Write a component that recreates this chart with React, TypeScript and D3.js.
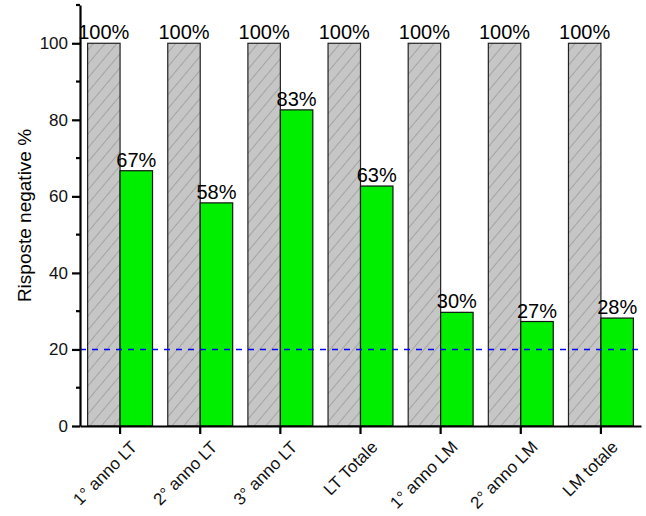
import React, { useEffect, useRef } from 'react';
import * as d3 from 'd3';

const categories = ['1° anno LT', '2° anno LT', '3° anno LT', 'LT Totale', '1° anno LM', '2° anno LM', 'LM totale'];
const totalValues = [100, 100, 100, 100, 100, 100, 100];
const negativeValues = [66.7, 58.3, 82.6, 62.7, 29.7, 27.3, 28.2];
const totalLabels = ['100%', '100%', '100%', '100%', '100%', '100%', '100%'];
const negativeLabels = ['67%', '58%', '83%', '63%', '30%', '27%', '28%'];
const yTicks = [0, 20, 40, 60, 80, 100];
const yMinorTicks = [10, 30, 50, 70, 90, 110];
const thresholdValue = 20;

const App: React.FC = () => {
    const chartRef = useRef<SVGSVGElement | null>(null);

    useEffect(() => {
        if (!chartRef.current) return;
        const svg = d3.select(chartRef.current);
        svg.selectAll('*').remove();

        const width = 646;
        const height = 516;
        const margin = { top: 5, right: 5, bottom: 90, left: 80 };
        const font = 'Liberation Sans, Arial, sans-serif';

        svg.attr('width', width).attr('height', height);

        const defs = svg.append('defs');
        const pattern = defs.append('pattern')
            .attr('id', 'hatch')
            .attr('patternUnits', 'userSpaceOnUse')
            .attr('width', 9)
            .attr('height', 9)
            .attr('patternTransform', 'rotate(40)');
        pattern.append('rect').attr('width', 9).attr('height', 9).attr('fill', '#c6c6c6');
        pattern.append('line')
            .attr('x1', 0).attr('y1', 0).attr('x2', 0).attr('y2', 9)
            .attr('stroke', '#6e6e6e').attr('stroke-width', 0.8);

        const x = d3.scaleBand()
            .domain(categories)
            .range([margin.left, width - margin.right])
            .paddingInner(0.19)
            .paddingOuter(0.095);

        const y = d3.scaleLinear()
            .domain([0, 110])
            .range([426, 5]);

        const half = x.bandwidth() / 2;
        const center = (c: string) => (x(c) as number) + half;

        // gray bars
        svg.selectAll('.total')
            .data(categories)
            .enter().append('rect')
            .attr('x', d => x(d) as number)
            .attr('y', (_, i) => y(totalValues[i]))
            .attr('width', half)
            .attr('height', (_, i) => y(0) - y(totalValues[i]))
            .attr('fill', 'url(#hatch)')
            .attr('stroke', '#222')
            .attr('stroke-width', 1.2);

        // green bars
        svg.selectAll('.neg')
            .data(categories)
            .enter().append('rect')
            .attr('x', d => center(d))
            .attr('y', (_, i) => y(negativeValues[i]))
            .attr('width', half)
            .attr('height', (_, i) => y(0) - y(negativeValues[i]))
            .attr('fill', '#00ee00')
            .attr('stroke', '#111')
            .attr('stroke-width', 1.2);

        // threshold line
        svg.append('line')
            .attr('x1', margin.left).attr('x2', width - margin.right)
            .attr('y1', y(thresholdValue)).attr('y2', y(thresholdValue))
            .attr('stroke', '#0000ff')
            .attr('stroke-width', 1.6)
            .attr('stroke-dasharray', '6,6');

        // value labels
        svg.selectAll('.tl')
            .data(categories)
            .enter().append('text')
            .attr('x', d => (x(d) as number) + half / 2)
            .attr('y', (_, i) => y(totalValues[i]) - 4)
            .attr('text-anchor', 'middle')
            .attr('font-family', font)
            .attr('font-size', 20)
            .text((_, i) => totalLabels[i]);

        svg.selectAll('.nl')
            .data(categories)
            .enter().append('text')
            .attr('x', d => center(d) + half / 2)
            .attr('y', (_, i) => y(negativeValues[i]) - 4)
            .attr('text-anchor', 'middle')
            .attr('font-family', font)
            .attr('font-size', 20)
            .text((_, i) => negativeLabels[i]);

        // y axis
        const yAxis = svg.append('g')
            .attr('transform', `translate(${margin.left},0)`)
            .call(d3.axisLeft(y).tickValues(yTicks).tickSize(8).tickSizeOuter(0).tickPadding(4));
        yAxis.select('.domain').attr('stroke-width', 2.2);
        yAxis.selectAll('.tick line').attr('stroke-width', 2.2);
        yAxis.selectAll('.tick text').attr('font-family', font).attr('font-size', 17).attr('fill', '#111');
        yAxis.selectAll('.minor')
            .data(yMinorTicks)
            .enter().append('line')
            .attr('x1', -4).attr('x2', 0)
            .attr('y1', d => y(d)).attr('y2', d => y(d))
            .attr('stroke', '#000').attr('stroke-width', 2.2);

        // x axis
        const xAxis = svg.append('g')
            .attr('transform', `translate(0,${y(0)})`)
            .call(d3.axisBottom(x).tickSize(8).tickSizeOuter(0).tickPadding(6));
        xAxis.select('.domain').attr('stroke-width', 2.2);
        xAxis.selectAll('.tick line').attr('stroke-width', 2.2);
        xAxis.selectAll('.tick text')
            .attr('font-family', font)
            .attr('font-size', 17)
            .attr('fill', '#111')
            .attr('text-anchor', 'end')
            .attr('dy', '0.35em')
            .attr('transform', 'translate(4,8) rotate(-45)');

        svg.append('text')
            .attr('transform', `translate(31,${y(55)}) rotate(-90)`)
            .attr('text-anchor', 'middle')
            .attr('font-family', font)
            .attr('font-size', 19)
            .text('Risposte negative %');
    }, []);

    return (
        <div style={{ position: 'absolute', left: 0, top: 0, background: '#fff' }}>
            <svg ref={chartRef} />
        </div>
    );
};

export default App;
